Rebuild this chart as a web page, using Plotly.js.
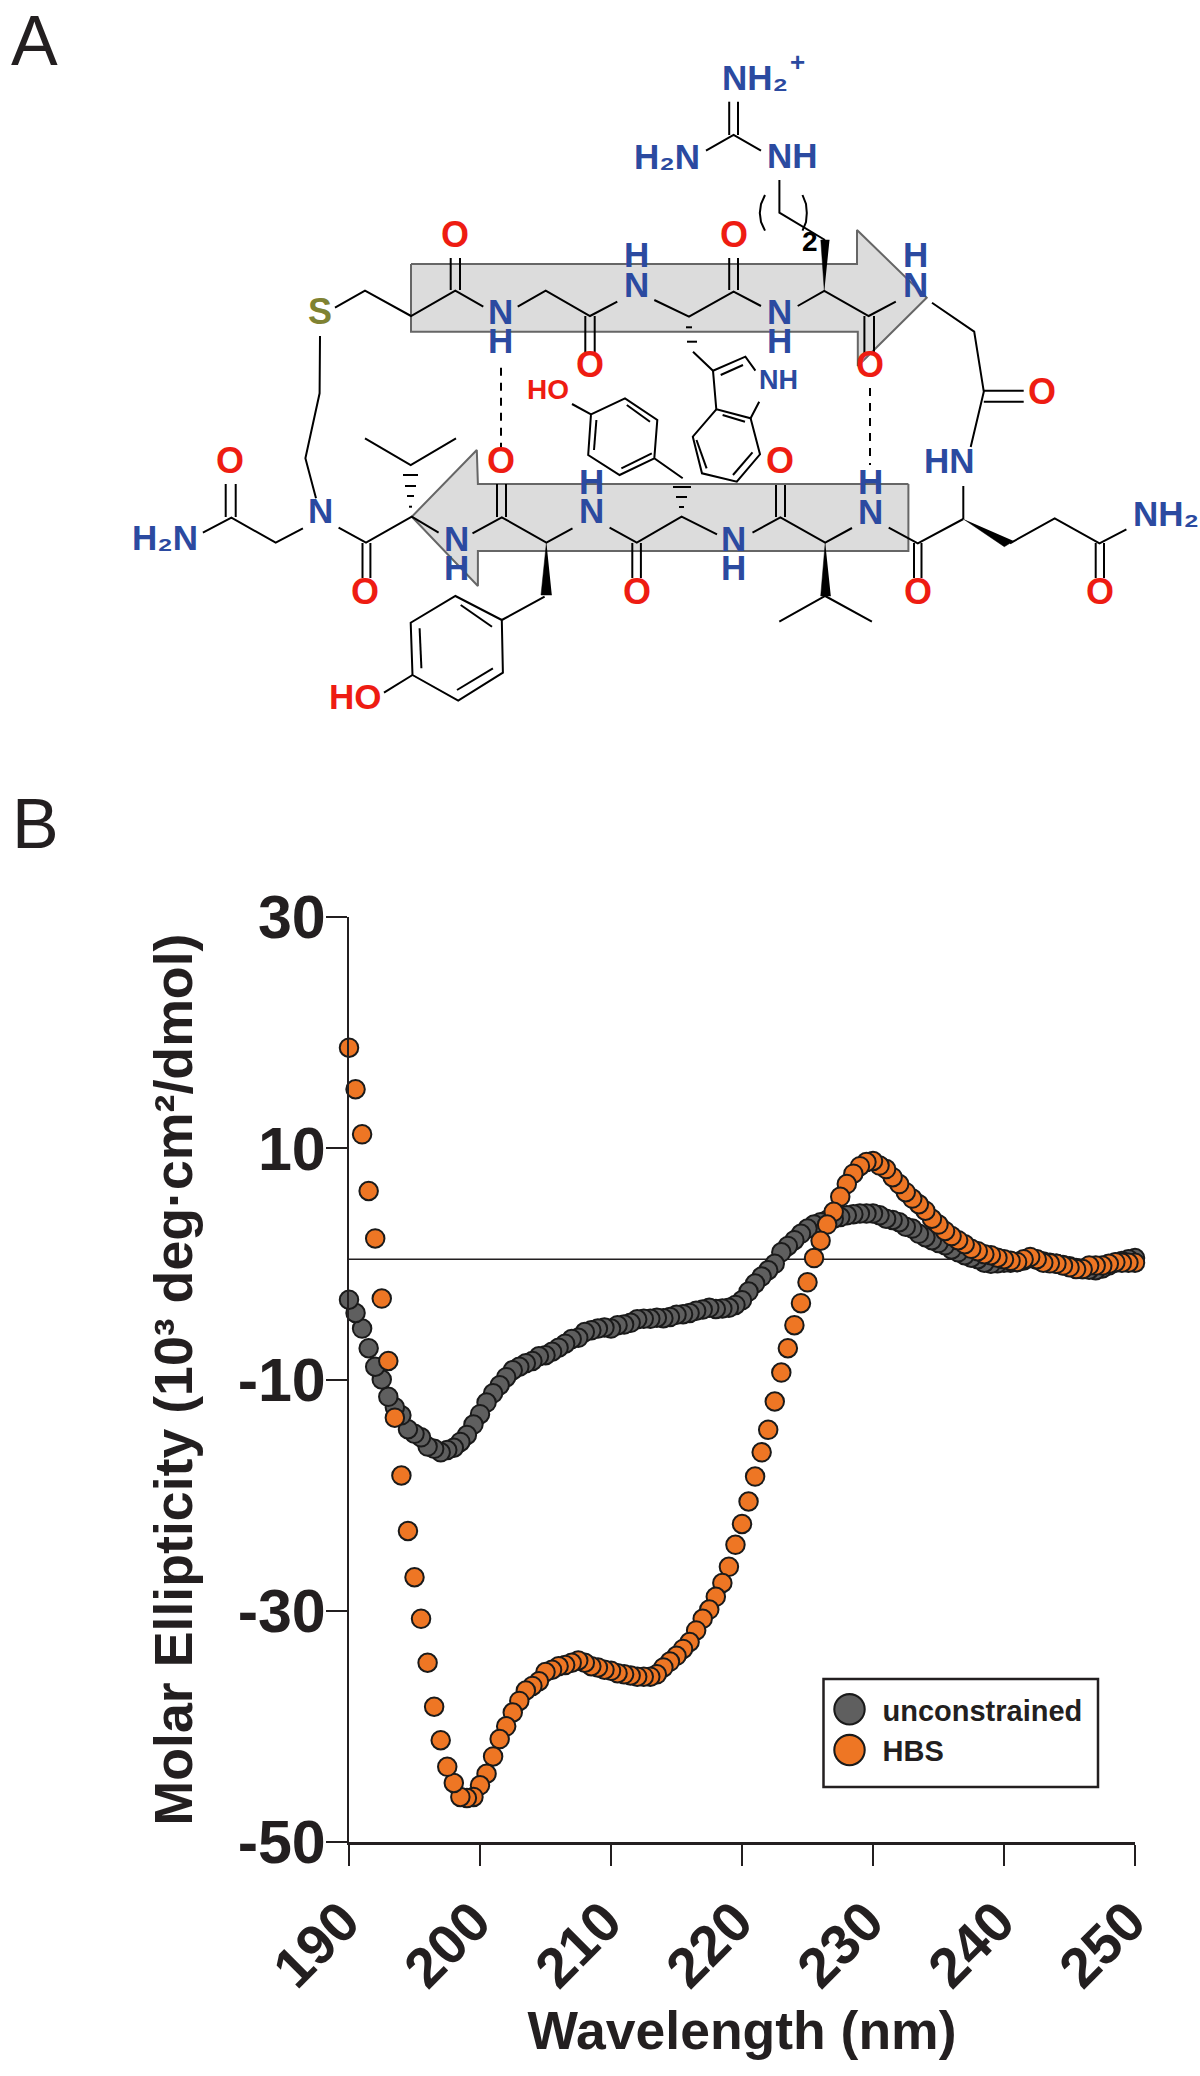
<!DOCTYPE html>
<html><head><meta charset="utf-8">
<script src="https://cdn.plot.ly/plotly-3.0.1.min.js"></script>
<style>html,body{margin:0;padding:0;background:#fff}#g{width:1200px;height:2076px}</style>
</head><body><div id="g"></div>
<script>
const wavelength=[190,190.5,191,191.5,192,192.5,193,193.5,194,194.5,195,195.5,196,196.5,197,197.5,198,198.5,199,199.5,
200,200.5,201,201.5,202,202.5,203,203.5,204,204.5,205,205.5,206,206.5,207,207.5,208,208.5,209,209.5,
210,210.5,211,211.5,212,212.5,213,213.5,214,214.5,215,215.5,216,216.5,217,217.5,218,218.5,219,219.5,
220,220.5,221,221.5,222,222.5,223,223.5,224,224.5,225,225.5,226,226.5,227,227.5,228,228.5,229,229.5,
230,230.5,231,231.5,232,232.5,233,233.5,234,234.5,235,235.5,236,236.5,237,237.5,238,238.5,239,239.5,
240,240.5,241,241.5,242,242.5,243,243.5,244,244.5,245,245.5,246,246.5,247,247.5,248,248.5,249,249.5,250];
const unconstrained=[-3.1,-4.25,-5.6,-7.3,-8.9,-10.0,-11.5,-12.4,-13.1,-14.3,-14.7,-15.0,-15.8,-16.0,-16.3,-16.1,-15.9,-15.4,-14.8,-13.9,
-13.0,-12.0,-11.2,-10.5,-9.8,-9.2,-8.9,-8.6,-8.4,-8.0,-7.9,-7.6,-7.25,-6.9,-6.5,-6.4,-5.9,-5.75,-5.6,-5.5,
-5.6,-5.3,-5.25,-5.1,-4.8,-4.75,-4.75,-4.65,-4.7,-4.6,-4.4,-4.35,-4.25,-4.05,-3.95,-3.8,-3.9,-3.85,-3.8,-3.55,
-3.15,-2.4,-1.7,-1.1,-0.55,0,1.0,1.55,2.05,2.6,3.05,3.4,3.6,3.8,3.9,4.05,4.2,4.3,4.35,4.35,
4.35,4.2,3.9,3.8,3.6,3.2,3.05,2.6,2.3,2.05,1.8,1.6,1.25,1.0,0.75,0.54,0.4,0.1,0,0.05,
0.1,0.1,0.15,0.3,0.5,0.35,0.2,0.1,0,-0.1,-0.2,-0.35,-0.45,-0.5,-0.55,-0.4,-0.15,0.1,0.25,0.4,0.5];
const hbs=[18.7,15.1,11.2,6.3,2.2,-3.0,-8.4,-13.3,-18.3,-23.1,-27.1,-30.7,-34.5,-38.3,-41.2,-43.5,-44.9,-46.1,-46.2,-46.1,
-45.1,-44.1,-42.6,-41.1,-40.0,-38.8,-37.8,-36.9,-36.5,-36.1,-35.3,-35.1,-34.8,-34.7,-34.5,-34.3,-34.5,-34.8,-34.9,-35.1,
-35.2,-35.4,-35.5,-35.6,-35.7,-35.7,-35.7,-35.5,-34.9,-34.4,-33.9,-33.3,-32.7,-31.7,-30.7,-29.9,-28.8,-27.6,-26.2,-24.3,
-22.5,-20.55,-18.4,-16.3,-14.35,-11.9,-9.4,-7.3,-5.3,-3.4,-1.6,0.5,2.0,3.4,4.5,5.8,6.9,7.8,8.45,8.8,
8.9,8.5,8.2,7.5,6.9,6.2,5.65,5.16,4.6,3.9,3.4,2.85,2.4,2.05,1.7,1.3,1.1,0.83,0.75,0.54,
0.4,0.26,0.17,0.4,0.6,0.4,0.1,0.05,0,-0.15,-0.3,-0.45,-0.45,-0.15,-0.15,-0.15,0,0.15,0.1,0.1,0.1];
const xTickValues=[190,200,210,220,230,240,250];
const yTickValues=[-50,-30,-10,10,30];
const yTickLabels=['-50','-30','-10','10','30'];
const baselineValue=0.4;

// panel A: structure diagram, in page pixels
const sheetArrows=[
 [411,264,857,264,857,230,926.7,297.7,857.8,366,857.8,331.7,411,331.7,411,264],
 [908.4,484,477.9,484,476.8,450,411.8,516.7,477.9,586,477.9,551,908.4,551,908.4,484]];
const wedges=[
 [824.3,291,820.8,240,829.5,240],[825.2,542.7,820.7,596,830.8,596],
 [963.3,519,1004.3,546.7,1013.7,541],[546.4,542.7,541,595,551.8,595]];
const bonds=[
 [335,307.7,365,290.7,411,316,455.3,290.7,483.3,306.7],
 [517.7,306.7,545.7,290.7,590,316,617.3,301.7],
 [654.3,300,689,316.7,733.6,291.7,761,306],
 [797.7,306,824.3,291,868.7,316,895.8,301.7],
 [932,302.7,974.2,331.7,983.8,391.7,970.7,447],
 [450.7,258,450.7,290],[460,258,460,290],[585.3,316,585.3,353],[594.7,316,594.7,353],
 [729.2,258,729.2,290],[738,258,738,290],[864.4,316,864.4,353],[874,316,874,353],
 [320,336,319.6,393.3,305.4,458.3,316,498.3],
 [729.2,101.7,729.2,135],[738,101.7,738,135],[706,150.7,733.6,135,761,150.7],
 [779.4,180,779.4,212.7,825,240],
 [765,195,761,204,759.8,213,761,222,765,230.7],[802.5,195,806,204,806.8,213,806,222,802.5,230.7],
 [983.8,390.7,1023.7,390.7],[983.8,401.7,1023.7,401.7],
 [963.3,486,963.3,519],[1010,543.3,1054.7,518.3,1099.5,543.3,1126.4,529.3],
 [1095.7,543,1095.7,578],[1104,543,1104,578],
 [888.7,527.7,917.8,543.3,963.3,519],[914,543,914,578],[921.5,543,921.5,578],
 [852,528,825.2,542.7,780.4,517.3,752.5,532.7],[776,485,776,517],[785,485,785,517],
 [779.3,621.7,825.2,596,871.9,621.7],
 [717,534.3,681.6,516.7,636.8,542.7,609.6,527.7],[632.3,543,632.3,578],[640.9,543,640.9,578],
 [673,487,691,487],[676,497,687,497],[679,507,684,507],
 [682.7,478.3,654.3,458.3,657.3,420,625,398.3,591,414.3,588.2,455,619.6,475,654.3,458.3],
 [572,404,591,414.3],[596.4,420,594,450],[626.8,405,650,421.7],[621.4,468.3,651.8,453.3],
 [686,327.3,692,327.3],[687,341.7,697,341.7],
 [693,351.7,713,370.7,745.4,356.7,755.4,370.7],[720.7,375,743,365],
 [713,370.7,716.3,409.3,750.6,418.3,759.2,401.7],[722.6,415,745,421.7],
 [716.3,409.3,692.8,436.7,702,473.3,736.8,481.7,760,454.3,750.6,418.3],
 [696.5,440,706.6,468.3],[733,475,752.5,452.3],
 [365,438.3,410.7,465,456,438.3],
 [403,475,418,475],[405,486,416,486],[407,496,414,496],[409,506.7,412,506.7],
 [438.6,532.7,411.8,516.7,366,542.7,338.6,527.7],
 [302.9,528.3,275.7,542.7,231.4,517.7,202.9,532.7],
 [225.7,484,225.7,517],[235.7,484,235.7,517],[362.5,543,362.5,578],[370.4,543,370.4,578],
 [472.5,533.3,501.8,517.3,546.4,542.7,572.5,528.3],[497,484,497,517],[506,484,506,517],
 [544.6,596.7,501.8,620,455.4,596,410.7,622.7,412.5,675,458.2,700.7,502.9,672.7,501.8,620],
 [492,626.7,460.7,605],[419.6,628.3,421.4,668.3],[457,690,492.9,668.3],
 [384,692.7,412.5,675]];
const hBonds=[[501,367.7,501,447],[870,388,870,465]];
const BLUE='#2b4aa0',RED='#ee1c12',OLIVE='#7f8232',INK='#231f20';
const atomLabels=[
 ['O',455,234,RED,36],['S',320,311.7,OLIVE,36],['N',500,311.7,BLUE,35],['H',500,340.7,BLUE,35],['O',590,364,RED,36],
 ['NH₂',755,77,BLUE,35],['+',797,62,BLUE,26],['H₂N',667,156,BLUE,35],['NH',792,155,BLUE,35],
 ['2',810,241.7,'#000',28],['O',733.6,234,RED,36],['H',636.4,254,BLUE,35],['N',636.4,284,BLUE,35],
 ['N',779.4,311.7,BLUE,35],['H',779.4,340.7,BLUE,35],['O',870,364,RED,36],['H',915.4,254,BLUE,35],['N',915.4,284,BLUE,35],
 ['NH',778.6,380,BLUE,27],['HO',548.2,389.3,RED,28],['O',1042.4,391.7,RED,36],['HN',949.8,460,BLUE,35],
 ['NH₂',1166,513,BLUE,35],['O',1100,591.7,RED,36],['O',917.8,591.7,RED,36],['H',870.7,481.7,BLUE,35],['N',870.7,511,BLUE,35],
 ['N',733.8,538,BLUE,35],['H',733.8,567.3,BLUE,35],['O',780.4,460,RED,36],['O',636.8,591.7,RED,36],
 ['O',500.7,460,RED,36],['N',320.4,510.7,BLUE,35],['H₂N',165,537,BLUE,35],['O',230.4,460,RED,36],['O',365.4,591,RED,36],
 ['N',456.4,538.3,BLUE,35],['H',456.4,567.3,BLUE,35],['N',591,510.7,BLUE,35],['H',591,481.7,BLUE,35],['HO',355,696.7,RED,35]];
const panelLabels=[['A',34,41],['B',35,824]];

function flat(list){const xs=[],ys=[];list.forEach(p=>{for(let i=0;i<p.length;i+=2){xs.push(p[i]);ys.push(p[i+1]);}xs.push(null);ys.push(null);});return {x:xs,y:ys};}
const W=1200,H=2076;
const rev=a=>a.slice().reverse();
function pts(name,vals,fill){return {type:'scatter',mode:'markers',name:name,legendgroup:name,x:rev(wavelength),y:rev(vals),xaxis:'x',yaxis:'y',cliponaxis:false,
 marker:{size:18.5,color:fill,line:{color:'#1a1a1a',width:2}}};}
const over={xaxis:'x2',yaxis:'y2',showlegend:false,hoverinfo:'skip',cliponaxis:false};
const traces=[
 Object.assign({type:'scatter',mode:'lines',fill:'toself',fillcolor:'#dcdcdc',line:{color:'#666',width:2}},flat(sheetArrows),over),
 Object.assign({type:'scatter',mode:'lines',line:{color:'#000',width:2}},flat(bonds),over),
 Object.assign({type:'scatter',mode:'lines',line:{color:'#000',width:2,dash:'8px,7px'}},flat(hBonds),over),
 Object.assign({type:'scatter',mode:'lines',fill:'toself',fillcolor:'#000',line:{color:'#000',width:0.5}},flat(wedges),over),
 pts('unconstrained',unconstrained,'#5f5f5f'),
 pts('HBS',hbs,'#ee7624')
];
const FONT='"Liberation Sans",Arial,sans-serif';
const annotations=atomLabels.map(a=>({text:a[0],x:a[1],y:a[2],xref:'x2',yref:'y2',showarrow:false,xanchor:'center',yanchor:'middle',font:{family:FONT,size:a[4],color:a[3],weight:700}}))
 .concat(panelLabels.map(a=>({text:a[0],x:a[1],y:a[2],xref:'x2',yref:'y2',showarrow:false,xanchor:'center',yanchor:'middle',font:{family:FONT,size:70,color:INK}})));
const hidden={visible:false,fixedrange:true,showticklabels:false,ticks:'',showgrid:false,zeroline:false,tickmode:'array',tickvals:[]};
const layout={width:W,height:H,margin:{l:0,r:0,t:0,b:0},paper_bgcolor:'#fff',plot_bgcolor:'rgba(0,0,0,0)',font:{family:FONT,color:INK},
 xaxis:{domain:[349/W,1135/W],range:[190,250],anchor:'y',tickmode:'array',tickvals:xTickValues,ticks:'outside',ticklen:21,tickwidth:2,tickcolor:INK,
  showline:true,linewidth:3,linecolor:INK,showgrid:false,zeroline:false,tickangle:-45,ticklabelshift:-6,tickfont:{family:FONT,size:56,color:INK,weight:700},
  title:{text:'Wavelength (nm)',font:{family:FONT,size:53.5,color:INK,weight:700},standoff:13}},
 yaxis:{domain:[1-1842/H,1-917/H],range:[-50,30],anchor:'x',tickmode:'array',tickvals:yTickValues,ticktext:yTickLabels,ticks:'outside',ticklen:21,tickwidth:2,tickcolor:INK,
  showline:true,linewidth:2,linecolor:INK,showgrid:false,zeroline:false,ticklabelstandoff:-12,tickfont:{family:FONT,size:61,color:INK,weight:700},
  title:{text:'Molar Ellipticity (10³ deg·cm²/dmol)',font:{family:FONT,size:53.7,color:INK,weight:700},standoff:28}},
 xaxis2:Object.assign({domain:[0,1],range:[0,W],anchor:'y2'},hidden),
 yaxis2:Object.assign({domain:[0,1],range:[H,0],anchor:'x2'},hidden),
 showlegend:true,
 legend:{x:822.5/W,y:1-1684/H,xanchor:'left',yanchor:'top',bgcolor:'rgba(0,0,0,0)',borderwidth:0,itemwidth:50,tracegroupgap:9,traceorder:'normal',itemclick:false,
  font:{family:FONT,size:29,color:INK,weight:700}},
 shapes:[
  {type:'line',xref:'x',yref:'y',x0:190,x1:250,y0:baselineValue,y1:baselineValue,line:{color:INK,width:1.6},layer:'below'},
  {type:'rect',xref:'paper',yref:'paper',x0:823.5/W,x1:1098/W,y0:1-1679/H,y1:1-1787/H,line:{color:INK,width:2.5},fillcolor:'rgba(0,0,0,0)'}],
 annotations:annotations};
Plotly.newPlot('g',traces,layout,{displayModeBar:false,staticPlot:true}).then(gd=>{
 gd.querySelectorAll('.legend .legendpoints path').forEach(p=>{
  const t=p.getAttribute('transform')||'';p.setAttribute('transform',t+' translate(-3,0) scale(1.9)');p.style.strokeWidth='1.1px';});
});
</script></body></html>
